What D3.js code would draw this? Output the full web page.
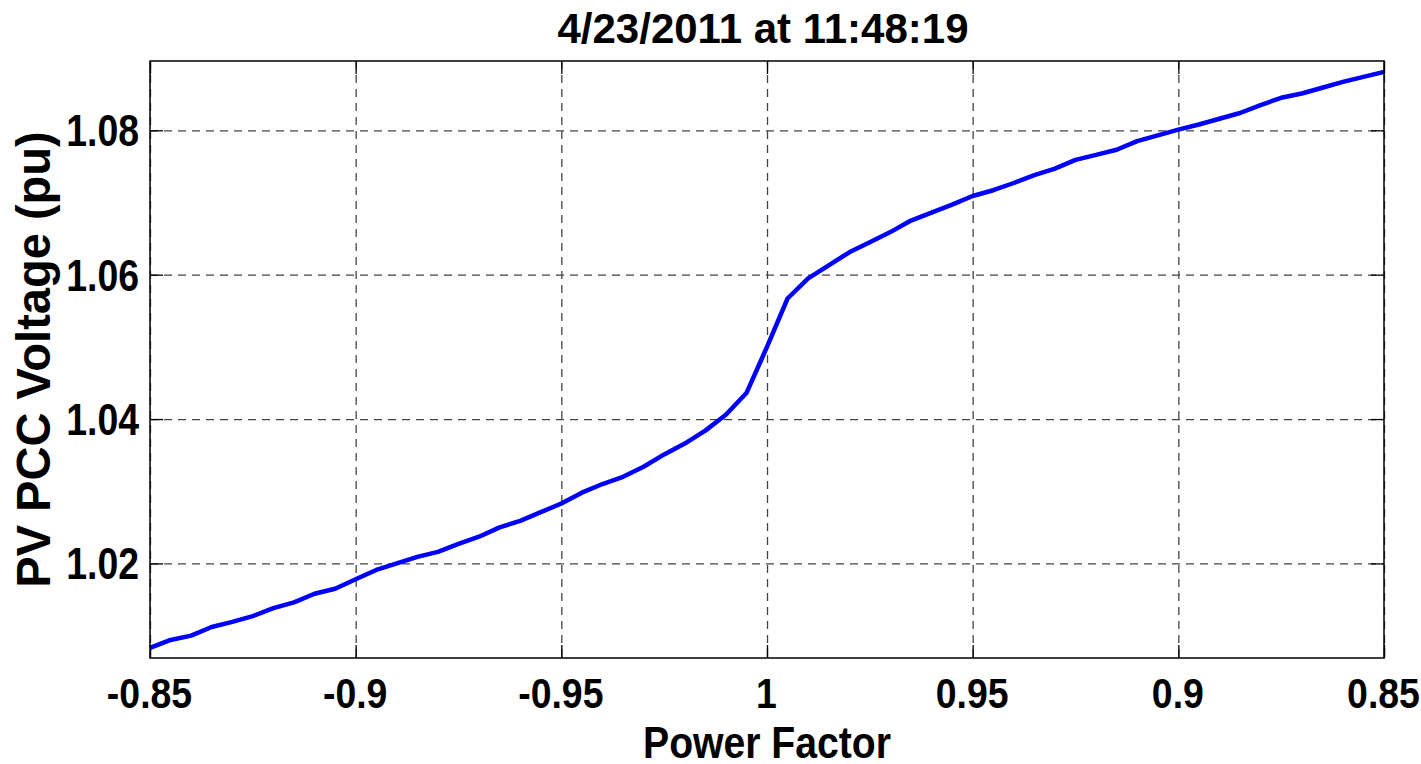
<!DOCTYPE html>
<html>
<head>
<meta charset="utf-8">
<script src="https://cdn.jsdelivr.net/npm/d3@7"></script>
<style>
  body { margin: 0; background: #fff; }
  svg { display: block; }
  text { font-family: "Liberation Sans", Arial, sans-serif; font-weight: bold; fill: #000; }
</style>
</head>
<body>
<svg width="1421" height="764"></svg>
<script>
  // power factor samples (leading side negative, lagging side positive)
  const powerFactor = [
    -0.850, -0.855, -0.860, -0.865, -0.870, -0.875, -0.880, -0.885, -0.890, -0.895,
    -0.900, -0.905, -0.910, -0.915, -0.920, -0.925, -0.930, -0.935, -0.940, -0.945,
    -0.950, -0.955, -0.960, -0.965, -0.970, -0.975, -0.980, -0.985, -0.990, -0.995,
     1.000,
     0.995,  0.990,  0.985,  0.980,  0.975,  0.970,  0.965,  0.960,  0.955,  0.950,
     0.945,  0.940,  0.935,  0.930,  0.925,  0.920,  0.915,  0.910,  0.905,  0.900,
     0.895,  0.890,  0.885,  0.880,  0.875,  0.870,  0.865,  0.860,  0.855,  0.850
  ];

  // PV PCC voltage (pu)
  const voltage = [
    1.0083, 1.0094, 1.0100, 1.0112, 1.0119, 1.0127, 1.0138, 1.0146, 1.0158, 1.0165,
    1.0178, 1.0191, 1.0200, 1.0209, 1.0216, 1.0227, 1.0237, 1.0250, 1.0259, 1.0271,
    1.0283, 1.0298, 1.0310, 1.0320, 1.0334, 1.0351, 1.0366, 1.0384, 1.0406, 1.0436,
    1.0500,
    1.0567, 1.0595, 1.0613, 1.0631, 1.0645, 1.0659, 1.0675, 1.0686, 1.0697, 1.0709,
    1.0717, 1.0727, 1.0738, 1.0747, 1.0759, 1.0766, 1.0773, 1.0785, 1.0793, 1.0801,
    1.0808, 1.0816, 1.0824, 1.0835, 1.0845, 1.0851, 1.0859, 1.0867, 1.0874, 1.0881
  ];

  const xTickPF = [-0.85, -0.9, -0.95, 1, 0.95, 0.9, 0.85];
  const yTicks = [1.02, 1.04, 1.06, 1.08];

  const title = "4/23/2011 at 11:48:19";
  const xLabel = "Power Factor";
  const yLabel = "PV PCC Voltage (pu)";

  // signed distance from unity power factor, so the axis runs left to right
  const pos = pf => pf < 0 ? -(1 + pf) : (1 - pf);

  const svg = d3.select("svg");
  const margin = {left: 150, right: 1421 - 1384, top: 61, bottom: 764 - 658};
  const width = 1421 - margin.left - margin.right;
  const height = 764 - margin.top - margin.bottom;
  const squeeze = 0.85; // condensed look of the original labels

  const x = d3.scaleLinear().domain([-0.15, 0.15]).range([0, width]);
  const y = d3.scaleLinear().domain([1.0069, 1.0896]).range([height, 0]);

  const g = svg.append("g").attr("transform", `translate(${margin.left},${margin.top})`);

  const xt = xTickPF.map(pos);
  const fmtX = d => { const i = xt.indexOf(d); return String(xTickPF[i]); };

  // dashed grid
  g.append("g")
    .attr("class", "grid")
    .call(d3.axisBottom(x).tickValues(xt).tickSize(height).tickFormat(""))
    .call(a => a.select(".domain").remove());
  g.append("g")
    .attr("class", "grid")
    .call(d3.axisLeft(y).tickValues(yTicks).tickSize(-width).tickFormat(""))
    .call(a => a.select(".domain").remove());
  g.selectAll(".grid line")
    .attr("stroke", "#444")
    .attr("stroke-width", 1.3)
    .attr("stroke-dasharray", "8,6");

  // the curve
  const line = d3.line()
    .x((d, i) => x(pos(powerFactor[i])))
    .y(d => y(d));
  g.append("path")
    .datum(voltage)
    .attr("fill", "none")
    .attr("stroke", "#0000ff")
    .attr("stroke-width", 4.5)
    .attr("stroke-linejoin", "round")
    .attr("d", line);

  // axes with inward ticks on all four sides
  const tick = -13;
  const xAxis = g.append("g")
    .attr("transform", `translate(0,${height})`)
    .call(d3.axisBottom(x).tickValues(xt).tickSizeInner(tick).tickSizeOuter(0).tickPadding(50).tickFormat(fmtX));
  g.append("g")
    .call(d3.axisTop(x).tickValues(xt).tickSizeInner(tick).tickSizeOuter(0).tickFormat(""));
  const yAxis = g.append("g")
    .call(d3.axisLeft(y).tickValues(yTicks).tickSizeInner(tick).tickSizeOuter(0).tickPadding(11).tickFormat(d3.format(".2f")));
  g.append("g")
    .attr("transform", `translate(${width},0)`)
    .call(d3.axisRight(y).tickValues(yTicks).tickSizeInner(tick).tickSizeOuter(0).tickFormat(""));

  g.selectAll(".domain").remove();
  g.selectAll(".tick line").filter(function() { return !this.closest(".grid"); })
    .attr("stroke", "#000").attr("stroke-width", 1.3);

  xAxis.selectAll("text")
    .attr("y", null).attr("dy", null)
    .attr("transform", `translate(-1,50) scale(0.87,1)`)
    .style("font-size", "43px")
    .style("font-family", '"Liberation Sans", Arial, sans-serif')
    .style("font-weight", "bold");
  yAxis.selectAll("text")
    .attr("x", null).attr("dy", null)
    .attr("transform", `translate(-11,15.5) scale(${squeeze},1)`)
    .style("font-size", "44px")
    .style("font-family", '"Liberation Sans", Arial, sans-serif')
    .style("font-weight", "bold");

  // frame
  g.append("rect")
    .attr("width", width).attr("height", height)
    .attr("fill", "none").attr("stroke", "#000").attr("stroke-width", 1.5);

  // titles
  svg.append("text")
    .attr("transform", `translate(${margin.left + width / 2 - 4},43) scale(1,1)`)
    .attr("text-anchor", "middle")
    .style("font-size", "42px")
    .text(title);
  svg.append("text")
    .attr("transform", `translate(${margin.left + width / 2},758) scale(0.87,1)`)
    .attr("text-anchor", "middle")
    .style("font-size", "45px")
    .text(xLabel);
  svg.append("text")
    .attr("transform", `translate(50,${margin.top + height / 2}) rotate(-90) scale(0.98,1)`)
    .attr("text-anchor", "middle")
    .style("font-size", "48px")
    .text(yLabel);
</script>
</body>
</html>
